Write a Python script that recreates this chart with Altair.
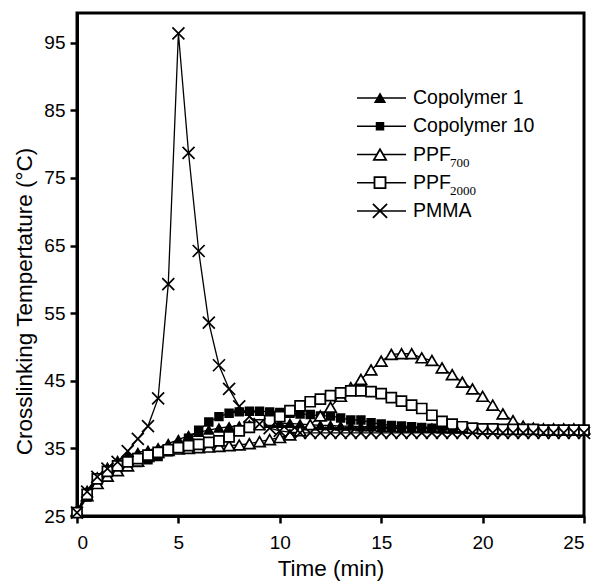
import altair as alt
import pandas as pd

times = [0, 0.5, 1, 1.5, 2, 2.5, 3, 3.5, 4, 4.5, 5, 5.5, 6, 6.5, 7, 7.5, 8, 8.5, 9, 9.5,
         10, 10.5, 11, 11.5, 12, 12.5, 13, 13.5, 14, 14.5, 15, 15.5, 16, 16.5, 17, 17.5,
         18, 18.5, 19, 19.5, 20, 20.5, 21, 21.5, 22, 22.5, 23, 23.5, 24, 24.5, 25]

series_names = ["Copolymer 1", "Copolymer 10", "PPF700", "PPF2000", "PMMA"]
legend_main = ["Copolymer 1", "Copolymer 10", "PPF", "PPF", "PMMA"]
legend_sub = ["", "", "700", "2000", ""]

copolymer1 = [25.6, 28.8, 30.8, 32.2, 33.2, 33.9, 34.4, 34.7, 35.1, 35.7, 36.3, 36.9, 37.4, 37.7,
              38.0, 38.2, 38.3, 38.5, 38.6, 38.7, 38.7, 38.7, 38.6, 38.5, 38.4, 38.4, 38.3, 38.3,
              38.2, 38.2, 38.1, 38.1, 38.0, 38.0, 38.0, 38.0, 37.9, 37.9, 37.9, 37.9, 37.9, 37.9,
              37.8, 37.8, 37.8, 37.8, 37.8, 37.7, 37.7, 37.7, 37.7]
copolymer10 = [25.4, 27.8, 29.9, 31.0, 31.8, 32.4, 32.9, 33.3, 33.8, 34.5, 35.4, 36.5, 37.7, 38.9,
               39.7, 40.2, 40.4, 40.5, 40.5, 40.4, 40.3, 40.2, 40.1, 40.0, 39.8, 39.8, 39.5, 39.2,
               39.2, 38.8, 38.6, 38.4, 38.3, 38.2, 38.1, 38.0, 38.0, 37.9, 37.9, 37.9, 37.8, 37.8,
               37.8, 37.8, 37.8, 37.7, 37.7, 37.7, 37.7, 37.7, 37.7]
ppf700 = [25.8, 28.0, 29.8, 30.9, 31.7, 32.4, 33.1, 33.8, 34.4, 34.7, 34.9, 35.0, 35.1, 35.2,
          35.3, 35.4, 35.5, 35.7, 36.0, 36.3, 36.6, 37.0, 37.6, 38.5, 39.8, 41.1, 42.7, 44.0,
          45.2, 46.6, 47.9, 48.9, 49.0, 49.0, 48.4, 48.0, 46.9, 45.9, 44.8, 43.8, 42.7, 41.4,
          40.1, 39.1, 38.3, 38.0, 37.9, 37.9, 37.9, 37.9, 37.9]
ppf2000 = [25.5, 28.2, 30.5, 31.6, 32.4, 33.0, 33.5, 34.0, 34.4, 34.8, 35.1, 35.4, 35.6, 35.9,
           36.1, 36.7, 37.6, 38.1, 38.5, 39.1, 39.7, 40.6, 41.3, 41.9, 42.3, 42.8, 43.2, 43.5,
           43.5, 43.4, 43.1, 42.5, 42.0, 41.4, 40.9, 39.9, 39.0, 38.6, 38.2, 38.0, 37.9, 37.9,
           37.8, 37.8, 37.8, 37.8, 37.7, 37.7, 37.7, 37.7, 37.7]
pmma = [25.5, 28.6, 30.8, 32.0, 33.0, 34.6, 36.4, 38.3, 42.4, 59.3, 96.4, 78.7, 64.2, 53.6,
        47.3, 43.8, 41.2, 39.7, 38.6, 38.0, 37.6, 37.4, 37.3, 37.3, 37.3, 37.3, 37.3, 37.3,
        37.3, 37.3, 37.3, 37.3, 37.3, 37.3, 37.3, 37.3, 37.3, 37.3, 37.3, 37.3, 37.3, 37.3,
        37.3, 37.3, 37.3, 37.3, 37.3, 37.3, 37.3, 37.3, 37.3]

all_values = [copolymer1, copolymer10, ppf700, ppf2000, pmma]
rows = []
for name, vals in zip(series_names, all_values):
    for t, v in zip(times, vals):
        rows.append({"series": name, "time": t, "temp": v})
df = pd.DataFrame(rows)

legend_df = pd.DataFrame({"series": series_names, "main": legend_main, "sub": legend_sub})

X_PATH = "M-1,-1L1,1M-1,1L1,-1"
# marker style per series: (shape, fill, plot size, legend size)
styles = {
    "Copolymer 1": ("triangle-up", "black", 80, 85),
    "Copolymer 10": ("square", "black", 60, 45),
    "PPF700": ("triangle-up", "white", 130, 150),
    "PPF2000": ("square", "white", 100, 121),
    "PMMA": (X_PATH, "transparent", 144, 200),
}

xs = alt.Scale(domain=[0, 25], nice=False, zero=False)
ys = alt.Scale(domain=[25, 99.4], nice=False, zero=False)

x_enc = alt.X("time:Q", scale=xs,
              axis=alt.Axis(values=[0, 5, 10, 15, 20, 25], title="Time (min)"))
y_enc = alt.Y("temp:Q", scale=ys,
              axis=alt.Axis(values=[25, 35, 45, 55, 65, 75, 85, 95],
                            title="Crosslinking Tempertature (°C)", titleY=288))

lines = alt.Chart(df).mark_line(color="black", strokeWidth=1.3).encode(
    x=x_enc, y=y_enc, detail="series:N", order="time:Q")

point_layers = []
for name in series_names:
    shp, fl, sz, _ = styles[name]
    point_layers.append(
        alt.Chart(df).transform_filter(alt.datum.series == name).mark_point(
            shape=shp, fill=fl, size=sz, stroke="black", strokeWidth=1.7,
            opacity=1, fillOpacity=1, strokeOpacity=1
        ).encode(x=alt.X("time:Q", scale=xs), y=alt.Y("temp:Q", scale=ys))
    )

main = alt.layer(lines, *point_layers)

ly = alt.Y("series:N", scale=alt.Scale(domain=series_names, range=[71, 212], padding=0),
           axis=None)

leg_rule = alt.Chart(legend_df).mark_rule(color="black", strokeWidth=1.5).encode(
    y=ly, x=alt.value(280), x2=alt.value(329))
leg_point_layers = []
for name in series_names:
    shp, fl, _, lsz = styles[name]
    leg_point_layers.append(
        alt.Chart(legend_df).transform_filter(alt.datum.series == name).mark_point(
            shape=shp, fill=fl, size=lsz, stroke="black", strokeWidth=1.8,
            opacity=1, fillOpacity=1, strokeOpacity=1
        ).encode(y=ly, x=alt.value(303))
    )
leg_text = alt.Chart(legend_df).mark_text(align="left", baseline="middle", fontSize=19.5,
                                          font="Liberation Sans", color="black").encode(
    y=ly, x=alt.value(336), text="main:N")
leg_sub = alt.Chart(legend_df).mark_text(align="left", baseline="middle", fontSize=13,
                                         font="Liberation Serif", color="#000000", dy=8).encode(
    y=ly, x=alt.value(373), text="sub:N")

legend = alt.layer(leg_rule, *leg_point_layers, leg_text, leg_sub)

chart = alt.layer(main, legend).resolve_scale(
    y="independent"
).properties(
    width=507, height=503,
    padding={"left": 69, "top": 5, "right": 8, "bottom": 66},
    autosize=alt.AutoSizeParams(type="none"),
).configure_view(
    stroke="black", strokeWidth=3
).configure_axis(
    grid=False, domainColor="black", domainWidth=3, tickColor="black", tickWidth=2.5,
    tickSize=7, labelFont="Liberation Sans", labelFontSize=19, labelColor="black",
    titleFont="Liberation Sans", titleFontSize=22.5, titleFontWeight="normal",
    titleColor="black", labelPadding=5
).configure_axisX(labelPadding=10, titlePadding=5).configure_axisY(titlePadding=7)

chart.save("out.html", embed_options={"renderer": "svg", "actions": False})
